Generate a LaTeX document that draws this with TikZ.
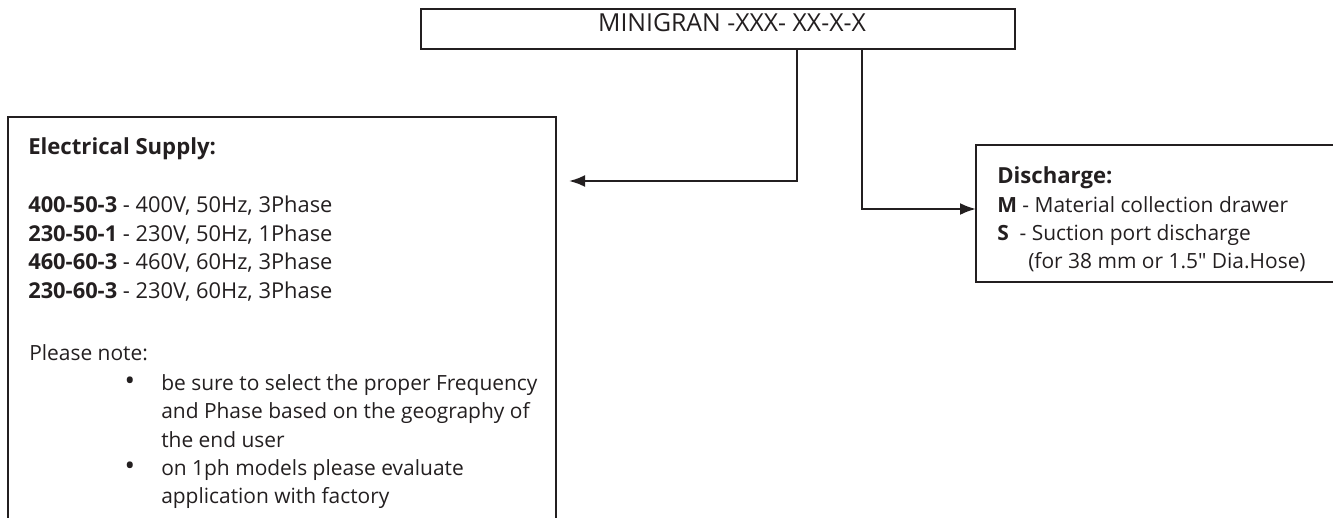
\documentclass[tikz,border=0pt]{standalone}
\usepackage{fontspec}
\setmainfont{Open Sans}
\newfontfamily\qfont{Open Sans}
\usetikzlibrary{arrows.meta,calc}
\definecolor{ink}{HTML}{231F20}
\begin{document}
\begin{tikzpicture}[x=0.75pt,y=-0.75pt,
  box/.style={draw=ink,line width=1.7pt,inner sep=0,outer sep=0,anchor=north west},
  conn/.style={draw=ink,line width=1.7pt,-{Latex[length=12pt,width=9pt]}},
  txt/.style={anchor=base west,inner sep=0,text=ink,font=\fontsize{15.7}{19}\selectfont},
  code/.style={txt,font=\fontsize{16.4}{19}\selectfont},
  head/.style={txt,font=\fontsize{16.6}{20}\selectfont\bfseries},
  title/.style={anchor=base,inner sep=0,text=ink,font=\fontsize{18.6}{22}\selectfont},
  bul/.style={anchor=base,inner sep=0,text=ink,font=\fontsize{21}{22}\selectfont}]
\useasboundingbox (0,0) rectangle (1333,517);
\clip (0,0) rectangle (1333,517);
% boxes
\node[box,minimum width=445.5pt,minimum height=30pt] (code) at (421,9) {};
\node[box,minimum width=411pt,minimum height=320pt] (elec) at (8,117) {};
\node[box,minimum width=280pt,minimum height=102.75pt] (disc) at (976,145) {};
% title
\node[title] (codetxt) at (732,32) {MINIGRAN -XXX- XX-X-X};
% connectors
\coordinate (elecin) at (569,181);
\draw[conn] ($(code.south)+(79,0)$) |- (elecin);
\draw[conn] ($(code.south)+(144,0)$) |- ($(disc.west)+(0,-4.5)$);
% electrical supply text
\node[head] (eh) at (28,154) {Electrical Supply:};
\node[code] (e1) at (28,212) {\textbf{400-50-3} - 400V, 50Hz, 3Phase};
\node[code] (e2) at (28,241) {\textbf{230-50-1} - 230V, 50Hz, 1Phase};
\node[code] (e3) at (28,269) {\textbf{460-60-3} - 460V, 60Hz, 3Phase};
\node[code] (e4) at (28,298) {\textbf{230-60-3} - 230V, 60Hz, 3Phase};
\node[txt] (pn) at (29,360) {Please note:};
\node[bul] (b1) at (130,390) {•};
\node[txt] (t1) at (161,390) {be sure to select the proper Frequency};
\node[txt] (t2) at (161,418) {and Phase based on the geography of};
\node[txt] (t3) at (161,447) {the end user};
\node[bul] (b2) at (130,475) {•};
\node[txt] (t4) at (161,475) {on 1ph models please evaluate};
\node[txt] (t5) at (161,503) {application with factory};
% discharge text
\node[head] (dh) at (997,183) {Discharge:};
\node[txt] (d1) at (997,212) {\textbf{M} - Material collection drawer};
\node[txt] (d2) at (997,240) {\textbf{S}\ \ - Suction port discharge};
\node[txt] (d3) at (1028,268) {(for 38 mm or 1.5{\qfont"} Dia.Hose)};
\end{tikzpicture}
\end{document}
